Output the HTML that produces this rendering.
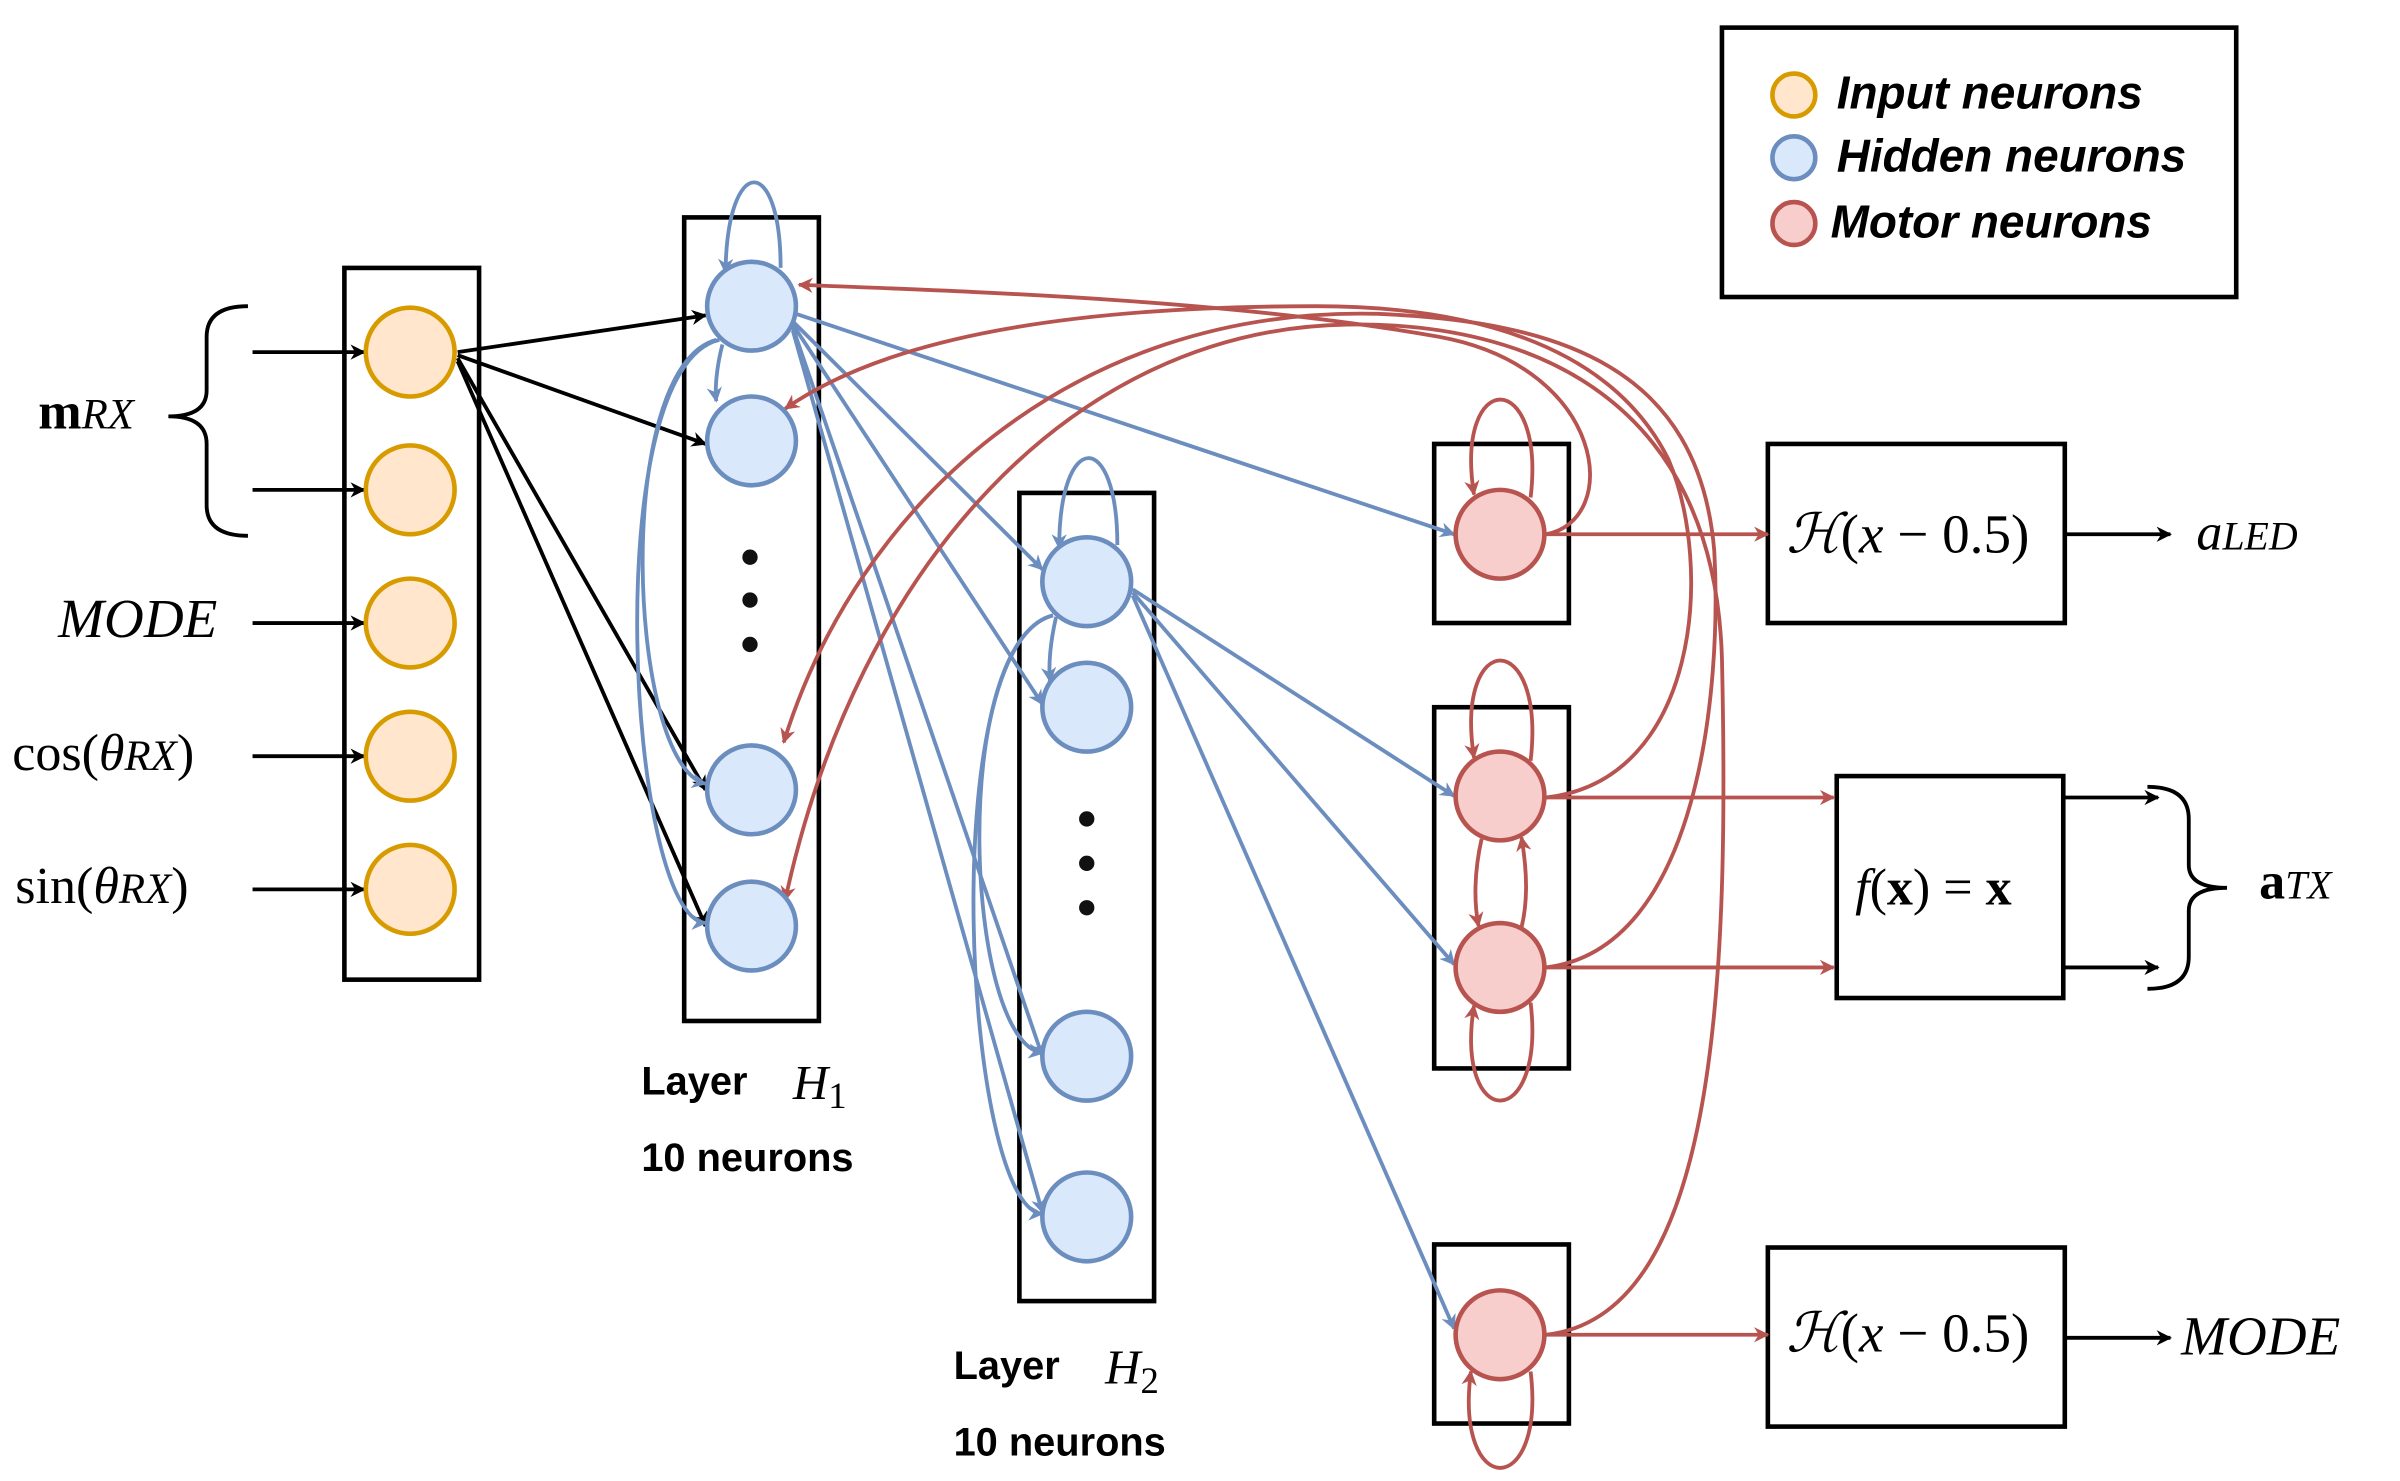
<!DOCTYPE html>
<html><head><meta charset="utf-8"><style>
html,body{margin:0;padding:0;background:#fff;}
svg{display:block;}
text{font-family:"Liberation Serif",serif;}
.s{font-family:"Liberation Sans","DejaVu Sans",sans-serif;font-weight:bold;}
</style></head><body>
<svg width="2400" height="1481" viewBox="0 0 1568 967.5" xmlns="http://www.w3.org/2000/svg">
<defs>
<marker id="ak" markerWidth="10" markerHeight="10" refX="9" refY="5" orient="auto" markerUnits="userSpaceOnUse"><path d="M0,0 L10,5 L0,10 L3,5 z" fill="#000"/></marker>
<marker id="ab" markerWidth="10" markerHeight="10" refX="9" refY="5" orient="auto" markerUnits="userSpaceOnUse"><path d="M0,0 L10,5 L0,10 L3,5 z" fill="#6c8ebf"/></marker>
<marker id="ar" markerWidth="10" markerHeight="10" refX="9" refY="5" orient="auto" markerUnits="userSpaceOnUse"><path d="M0,0 L10,5 L0,10 L3,5 z" fill="#b85450"/></marker>
</defs>
<g fill="none" stroke="#000" stroke-width="3">
<rect x="225" y="175" width="88" height="465"/>
<rect x="447" y="142" width="88" height="525"/>
<rect x="666" y="322" width="88" height="528"/>
<rect x="937" y="290" width="88" height="117"/>
<rect x="937" y="462" width="88" height="236"/>
<rect x="937" y="813" width="88" height="117"/>
<rect x="1155" y="290" width="194" height="117"/>
<rect x="1200" y="507" width="148" height="145"/>
<rect x="1155" y="815" width="194" height="117"/>
<rect x="1125" y="18" width="336" height="176"/>
</g>
<g stroke="#000" stroke-width="2.5" fill="none" marker-end="url(#ak)">
<line x1="165" y1="230" x2="238" y2="230"/>
<line x1="165" y1="320" x2="238" y2="320"/>
<line x1="165" y1="407" x2="238" y2="407"/>
<line x1="165" y1="494" x2="238" y2="494"/>
<line x1="165" y1="581" x2="238" y2="581"/>
<line x1="299" y1="230" x2="461" y2="206"/>
<line x1="299" y1="232" x2="461" y2="290"/>
<line x1="299" y1="234" x2="461" y2="516"/>
<line x1="299" y1="236" x2="461" y2="605"/>
<line x1="1349" y1="349" x2="1418" y2="349"/>
<line x1="1349" y1="521" x2="1410" y2="521"/>
<line x1="1349" y1="632" x2="1410" y2="632"/>
<line x1="1349" y1="874" x2="1418" y2="874"/>
</g>
<path d="M162,200 Q135,200 135,220 L135,255 Q135,272 110,272 Q135,272 135,290 L135,330 Q135,350 162,350" fill="none" stroke="#000" stroke-width="2.5"/>
<path d="M1403,514 Q1430,514 1430,535 L1430,565 Q1430,580 1455,580 Q1430,580 1430,595 L1430,625 Q1430,646 1403,646" fill="none" stroke="#000" stroke-width="2.5"/>
<g stroke="#6c8ebf" stroke-width="2.5" fill="none" marker-end="url(#ab)">
<path d="M510,175 C510,100 475,100 474,178"/>
<path d="M472,225 C468,240 467,255 468,262"/>
<path d="M468,222 C400,240 410,500 461,512"/>
<path d="M470,222 C390,240 410,600 461,603"/>
<path d="M520,205 L950,349"/>
<path d="M518,210 L681,372"/>
<path d="M518,212 L681,460"/>
<path d="M518,214 L681,690"/>
<path d="M518,216 L681,792"/>
<path d="M730,356 C730,280 692,280 692,358"/>
<path d="M690,403 C686,420 685,435 686,445"/>
<path d="M688,402 C620,420 630,680 681,688"/>
<path d="M688,402 C610,420 630,790 681,793"/>
<path d="M740,385 L950,520"/>
<path d="M740,387 L950,630"/>
<path d="M740,389 L950,868"/>
</g>
<g stroke="#b85450" stroke-width="2.5" fill="none" marker-end="url(#ar)">
<path d="M1010,349 L1155,349"/>
<path d="M1010,521 L1198,521"/>
<path d="M1010,632 L1198,632"/>
<path d="M1010,872 L1155,872"/>
<path d="M1000,325 C1010,240 950,240 963,323"/>
<path d="M1000,497 C1010,410 950,410 963,495"/>
<path d="M1000,655 C1010,740 950,740 963,657"/>
<path d="M1000,896 C1010,980 950,980 961,896"/>
<path d="M968,548 C963,570 963,590 966,605"/>
<path d="M994,606 C998,590 998,570 994,547"/>
<path d="M1010,349 C1060,340 1050,240 940,220 C800,195 620,190 522,186"/>
<path d="M1010,521 C1110,510 1120,370 1090,300 C1050,220 950,200 860,200 C700,200 580,220 513,267"/>
<path d="M1010,632 C1110,620 1125,450 1120,360 C1110,240 1020,210 900,205 C700,200 560,330 512,485"/>
<path d="M1010,872 C1120,860 1130,650 1125,430 C1120,260 1000,210 880,212 C700,215 560,370 513,588"/>
</g>
<g stroke="#d79b00" stroke-width="3" fill="#ffe6cc">
<ellipse cx="268" cy="230" rx="29" ry="29"/><ellipse cx="268" cy="320" rx="29" ry="29"/><ellipse cx="268" cy="407" rx="29" ry="29"/><ellipse cx="268" cy="494" rx="29" ry="29"/><ellipse cx="268" cy="581" rx="29" ry="29"/>
</g>
<g stroke="#6c8ebf" stroke-width="3" fill="#dae8fc">
<ellipse cx="491" cy="200" rx="29" ry="29"/><ellipse cx="491" cy="288" rx="29" ry="29"/><ellipse cx="491" cy="516" rx="29" ry="29"/><ellipse cx="491" cy="605" rx="29" ry="29"/>
<ellipse cx="710" cy="380" rx="29" ry="29"/><ellipse cx="710" cy="462" rx="29" ry="29"/><ellipse cx="710" cy="690" rx="29" ry="29"/><ellipse cx="710" cy="795" rx="29" ry="29"/>
</g>
<g stroke="#b85450" stroke-width="3" fill="#f8cecc">
<ellipse cx="980" cy="349" rx="29" ry="29"/><ellipse cx="980" cy="520" rx="29" ry="29"/><ellipse cx="980" cy="632" rx="29" ry="29"/><ellipse cx="980" cy="872" rx="29" ry="29"/>
</g>
<g fill="#111">
<circle cx="490" cy="364" r="5"/><circle cx="490" cy="392" r="5"/><circle cx="490" cy="421" r="5"/>
<circle cx="710" cy="535" r="5"/><circle cx="710" cy="564" r="5"/><circle cx="710" cy="593" r="5"/>
</g>
<circle cx="1172" cy="62" r="14" fill="#ffe6cc" stroke="#d79b00" stroke-width="3"/>
<circle cx="1172" cy="103" r="14" fill="#dae8fc" stroke="#6c8ebf" stroke-width="3"/>
<circle cx="1172" cy="146" r="14" fill="#f8cecc" stroke="#b85450" stroke-width="3"/>
<text class="s" x="1200" y="71" font-size="30" font-style="italic">Input neurons</text>
<text class="s" x="1200" y="112" font-size="30" font-style="italic">Hidden neurons</text>
<text class="s" x="1196" y="155" font-size="30" font-style="italic">Motor neurons</text>
<text x="25" y="280" font-size="34"><tspan font-weight="bold">m</tspan><tspan font-style="italic" font-size="28">RX</tspan></text>
<text x="38" y="416" font-size="36" font-style="italic">MODE</text>
<text x="8" y="503" font-size="34">cos(<tspan font-style="italic">θ</tspan><tspan font-style="italic" font-size="28">RX</tspan>)</text>
<text x="10" y="590" font-size="34">sin(<tspan font-style="italic">θ</tspan><tspan font-style="italic" font-size="28">RX</tspan>)</text>
<text class="s" x="419" y="715" font-size="26">Layer</text>
<text x="518" y="718" font-size="32" font-style="italic">H<tspan font-style="normal" font-size="24" dy="6">1</tspan></text>
<text class="s" x="419" y="765" font-size="26">10 neurons</text>
<text class="s" x="623" y="901" font-size="26">Layer</text>
<text x="722" y="904" font-size="32" font-style="italic">H<tspan font-style="normal" font-size="24" dy="6">2</tspan></text>
<text class="s" x="623" y="951" font-size="26">10 neurons</text>
<text x="1167" y="361" font-size="36"><tspan font-style="italic">ℋ</tspan>(<tspan font-style="italic">x</tspan> − 0.5)</text>
<text x="1167" y="883" font-size="36"><tspan font-style="italic">ℋ</tspan>(<tspan font-style="italic">x</tspan> − 0.5)</text>
<text x="1212" y="591" font-size="34"><tspan font-style="italic">f</tspan>(<tspan font-weight="bold">x</tspan>) = <tspan font-weight="bold">x</tspan></text>
<text x="1435" y="359" font-size="34" font-style="italic">a<tspan font-size="26">LED</tspan></text>
<text x="1476" y="587" font-size="34"><tspan font-weight="bold">a</tspan><tspan font-style="italic" font-size="26">TX</tspan></text>
<text x="1425" y="885" font-size="36" font-style="italic">MODE</text>
</svg>
</body></html>
